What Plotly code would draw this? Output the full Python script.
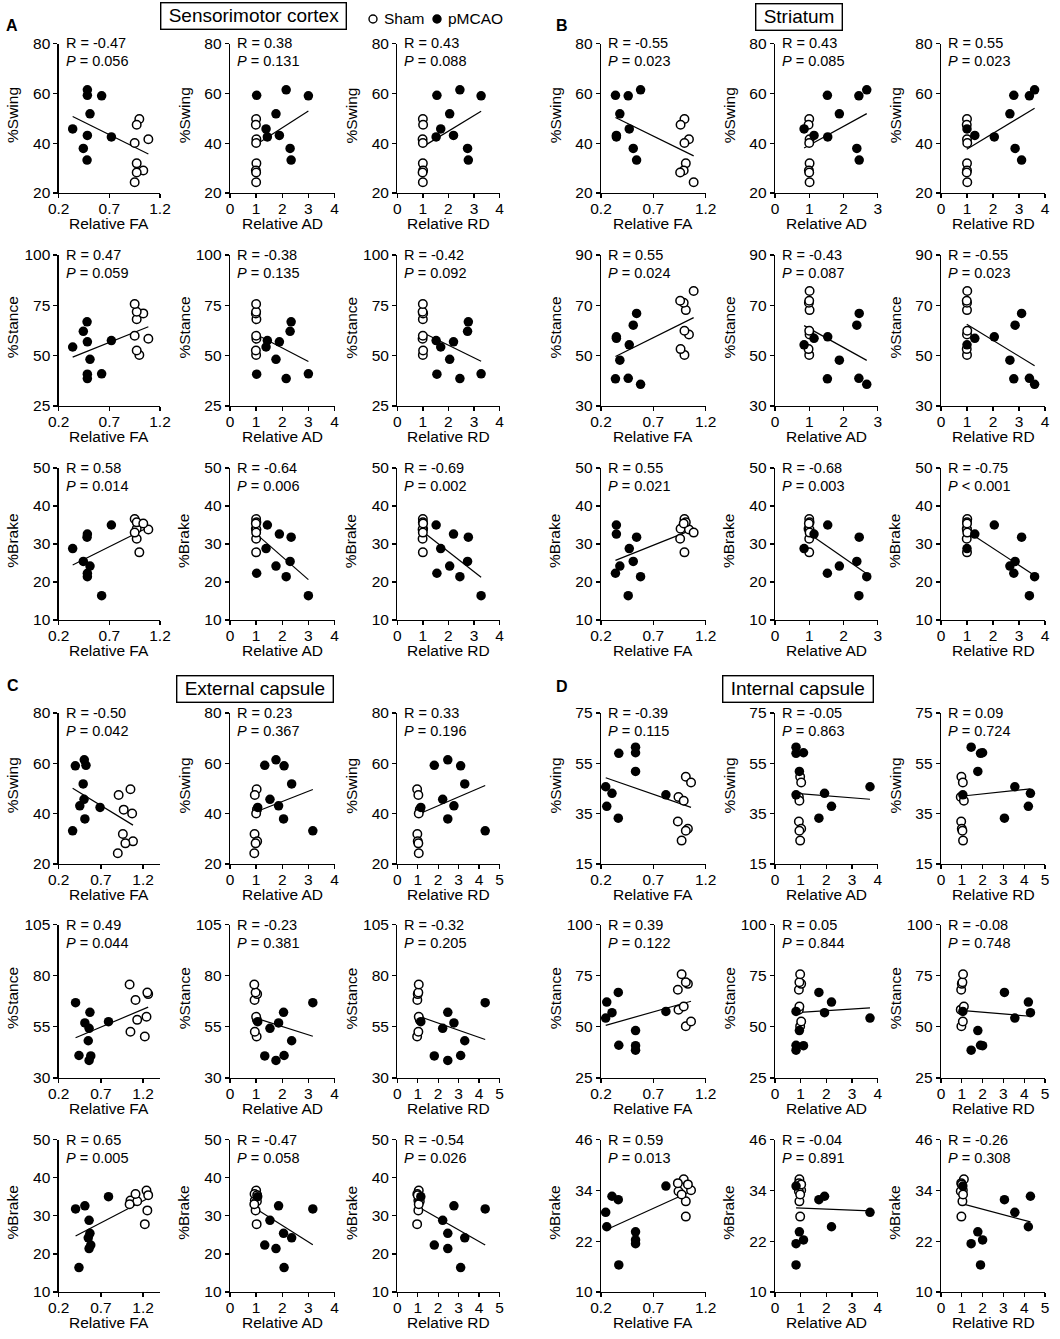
import numpy as np
import plotly.graph_objects as go

W, H = 1060, 1339
OFF = 0  # body margin is removed below, so the figure starts at the window corner
FONT = "Liberation Sans, Arial, sans-serif"

# ---------------- behaviour (%) per animal : Sham n=8, pMCAO n=9 ----------------
swing_sham  = [49.7, 47.4, 41.6, 40.1, 31.9, 29.0, 28.2, 24.3]
swing_mcao  = [61.4, 59.2, 59.0, 51.8, 45.7, 43.1, 42.5, 37.9, 33.2]
stance_sham = [50.3, 52.6, 58.4, 59.9, 68.1, 71.0, 71.8, 75.7]
stance_mcao = [38.6, 40.8, 41.0, 48.2, 54.3, 56.9, 57.5, 62.1, 66.8]
brake_sham  = [27.8, 34.0, 33.8, 36.6, 35.7, 35.4, 31.4, 33.0]
brake_mcao  = [21.4, 22.3, 16.4, 24.2, 28.8, 32.6, 35.0, 25.4, 31.8]

# ---------------- relative DTI values per animal (same animal order) ----------------
# Sensorimotor cortex
smc_fa_sham = [0.996, 0.97, 1.085, 0.95, 0.97, 1.035, 0.97, 0.95]
smc_fa_mcao = [0.483, 0.483, 0.624, 0.509, 0.338, 0.483, 0.72, 0.443, 0.48]
smc_ad_sham = [1.00, 0.99, 1.01, 1.00, 1.01, 0.99, 1.00, 1.00]
smc_ad_mcao = [2.15, 1.02, 3.00, 1.76, 1.38, 1.89, 1.43, 2.30, 2.34]
smc_rd_sham = [1.00, 1.01, 0.99, 1.00, 1.00, 1.01, 0.99, 1.00]
smc_rd_mcao = [2.45, 1.55, 3.28, 2.05, 1.70, 2.20, 1.52, 2.75, 2.78]
# Striatum
str_fa_sham = [0.997, 0.96, 1.04, 0.997, 1.01, 0.99, 0.956, 1.085]
str_fa_mcao = [0.578, 0.338, 0.46, 0.38, 0.47, 0.347, 0.347, 0.508, 0.54]
str_ad_sham = [1.00, 0.98, 1.01, 1.00, 1.01, 0.99, 1.00, 1.01]
str_ad_mcao = [2.68, 1.53, 2.45, 1.88, 0.85, 1.14, 1.54, 2.39, 2.46]
str_rd_sham = [1.00, 0.99, 1.00, 1.01, 1.00, 1.00, 0.99, 1.01]
str_rd_mcao = [3.60, 2.80, 3.40, 2.65, 1.00, 1.30, 2.05, 2.85, 3.10]
# External capsule
ec_fa_sham = [1.22, 1.05, 1.13, 1.24, 1.11, 1.26, 1.25, 1.04]
ec_fa_mcao = [0.56, 0.58, 0.44, 0.55, 0.56, 0.51, 0.79, 0.57, 0.40]
ec_fa_sham_swingplot = [1.05, 0.91, 0.97, 1.07, 0.96, 1.08, 0.99, 0.90]   # as drawn in the %Swing plot
ec_fa_mcao_swingplot = [0.503, 0.523, 0.397, 0.49, 0.50, 0.45, 0.69, 0.51, 0.365]
ec_ad_sham = [1.02, 0.95, 1.03, 1.00, 0.94, 1.04, 0.98, 0.93]
ec_ad_mcao = [1.76, 1.33, 2.07, 2.36, 1.53, 1.86, 1.06, 2.05, 3.17]
ec_rd_sham = [0.97, 1.03, 1.10, 1.05, 0.98, 1.00, 1.03, 1.05]
ec_rd_mcao = [2.47, 1.81, 3.10, 3.30, 2.22, 2.77, 1.15, 2.47, 4.30]
# Internal capsule
ic_fa_sham = [1.01, 1.06, 0.94, 0.99, 0.934, 1.03, 1.01, 0.97]
ic_fa_mcao = [0.53, 0.53, 0.37, 0.53, 0.245, 0.305, 0.82, 0.255, 0.365]
ic_ad_sham = [0.98, 1.02, 0.93, 0.95, 0.93, 1.02, 0.95, 0.98]
ic_ad_mcao = [0.82, 1.11, 0.82, 0.95, 3.70, 1.93, 0.82, 2.20, 1.71]
ic_rd_sham = [0.98, 1.05, 0.95, 1.10, 0.97, 1.00, 1.03, 1.06]
ic_rd_mcao = [1.45, 2.00, 1.90, 1.77, 3.55, 4.30, 1.05, 4.20, 3.05]

regions = ["Sensorimotor cortex", "Striatum", "External capsule", "Internal capsule"]
panel_letters = ["A", "B", "C", "D"]
metrics = ["FA", "AD", "RD"]
behaviours = ["Swing", "Stance", "Brake"]

x_values = [
    [(smc_fa_sham, smc_fa_mcao), (smc_ad_sham, smc_ad_mcao), (smc_rd_sham, smc_rd_mcao)],
    [(str_fa_sham, str_fa_mcao), (str_ad_sham, str_ad_mcao), (str_rd_sham, str_rd_mcao)],
    [(ec_fa_sham, ec_fa_mcao), (ec_ad_sham, ec_ad_mcao), (ec_rd_sham, ec_rd_mcao)],
    [(ic_fa_sham, ic_fa_mcao), (ic_ad_sham, ic_ad_mcao), (ic_rd_sham, ic_rd_mcao)],
]
# (region, behaviour, metric) -> x values used in that particular plot
x_overrides = {(2, 0, 0): (ec_fa_sham_swingplot, ec_fa_mcao_swingplot)}
y_values = [(swing_sham, swing_mcao), (stance_sham, stance_mcao), (brake_sham, brake_mcao)]

# axis ranges and ticks
x_ranges = [
    [(0.2, 1.2), (0, 4), (0, 4)],
    [(0.2, 1.2), (0, 3), (0, 4)],
    [(0.2, 1.4), (0, 4), (0, 5)],
    [(0.2, 1.2), (0, 4), (0, 5)],
]
fa_ticks = [0.2, 0.7, 1.2]
y_ticks = [
    [[20, 40, 60, 80], [25, 50, 75, 100], [10, 20, 30, 40, 50]],
    [[20, 40, 60, 80], [30, 50, 70, 90], [10, 20, 30, 40, 50]],
    [[20, 40, 60, 80], [30, 55, 80, 105], [10, 20, 30, 40, 50]],
    [[15, 35, 55, 75], [25, 50, 75, 100], [10, 22, 34, 46]],
]

# statistics printed in each plot (region -> behaviour -> metric)
r_labels = [
    [["-0.47", "0.38", "0.43"], ["0.47", "-0.38", "-0.42"], ["0.58", "-0.64", "-0.69"]],
    [["-0.55", "0.43", "0.55"], ["0.55", "-0.43", "-0.55"], ["0.55", "-0.68", "-0.75"]],
    [["-0.50", "0.23", "0.33"], ["0.49", "-0.23", "-0.32"], ["0.65", "-0.47", "-0.54"]],
    [["-0.39", "-0.05", "0.09"], ["0.39", "0.05", "-0.08"], ["0.59", "-0.04", "-0.26"]],
]
p_labels = [
    [["= 0.056", "= 0.131", "= 0.088"], ["= 0.059", "= 0.135", "= 0.092"], ["= 0.014", "= 0.006", "= 0.002"]],
    [["= 0.023", "= 0.085", "= 0.023"], ["= 0.024", "= 0.087", "= 0.023"], ["= 0.021", "= 0.003", "&lt; 0.001"]],
    [["= 0.042", "= 0.367", "= 0.196"], ["= 0.044", "= 0.381", "= 0.205"], ["= 0.005", "= 0.058", "= 0.026"]],
    [["= 0.115", "= 0.863", "= 0.724"], ["= 0.122", "= 0.844", "= 0.748"], ["= 0.013", "= 0.891", "= 0.308"]],
]

# ---------------- layout geometry (target pixels in the window) ----------------
left_cols = [(58.7, 160.0), (230.0, 334.5), (397.3, 499.5)]
right_cols = [(601.0, 705.7), (775.0, 877.7), (941.0, 1045.0)]
rows_px = [(43.5, 193.0), (255.0, 406.0), (468.0, 620.0),
           (713.0, 864.0), (924.5, 1078.0), (1139.5, 1292.0)]


def px(xp):
    return (xp - OFF) / W


def py(yp):
    return 1 - (yp - OFF) / H


fig = go.Figure()
layout = dict(width=W, height=H,
              margin=dict(l=0, r=0, t=0, b=0, pad=0, autoexpand=False),
              autosize=False,
              paper_bgcolor="white", plot_bgcolor="white", showlegend=False,
              font=dict(family=FONT, color="black"))
annotations = []
shapes = []

axis_common = dict(showline=True, linecolor="black", linewidth=1.3, ticks="outside",
                   ticklen=4, tickwidth=1.3, tickcolor="black", showgrid=False,
                   zeroline=False, fixedrange=True, automargin=False,
                   tickfont=dict(family=FONT, size=15.5, color="black"))

for p in range(4):
    cols = left_cols if p % 2 == 0 else right_cols
    for r in range(3):
        gr = r + (3 if p >= 2 else 0)
        top, bot = rows_px[gr]
        for c in range(3):
            k = p * 9 + r * 3 + c + 1
            x0, x1 = cols[c]
            xs_sham, xs_mcao = x_overrides.get((p, r, c), x_values[p][c])
            ys_sham, ys_mcao = y_values[r]
            xa = "x" if k == 1 else f"x{k}"
            ya = "y" if k == 1 else f"y{k}"

            # regression line across all animals
            xall = np.array(xs_sham + xs_mcao, dtype=float)
            yall = np.array(ys_sham + ys_mcao, dtype=float)
            slope, icpt = np.polyfit(xall, yall, 1)
            xl = np.array([xall.min(), xall.max()])
            fig.add_trace(go.Scatter(x=xl, y=slope * xl + icpt, mode="lines",
                                     line=dict(color="black", width=1.2),
                                     xaxis=xa, yaxis=ya, hoverinfo="skip"))
            fig.add_trace(go.Scatter(x=xs_sham, y=ys_sham, mode="markers", name="Sham",
                                     marker=dict(symbol="circle", size=8.5, color="white",
                                                 line=dict(color="black", width=1.5)),
                                     xaxis=xa, yaxis=ya))
            fig.add_trace(go.Scatter(x=xs_mcao, y=ys_mcao, mode="markers", name="pMCAO",
                                     marker=dict(symbol="circle", size=9.5, color="black",
                                                 line=dict(color="black", width=0)),
                                     xaxis=xa, yaxis=ya))

            xr = x_ranges[p][c]
            if c == 0:
                xt = dict(tickvals=fa_ticks, ticktext=[f"{v:.1f}" for v in fa_ticks])
            else:
                xt = dict(tickvals=list(range(int(xr[0]), int(xr[1]) + 1)))
            yt = y_ticks[p][r]
            layout["xaxis" if k == 1 else f"xaxis{k}"] = dict(
                axis_common, domain=[px(x0), px(x1)], range=list(xr),
                anchor=ya, ticklabelstandoff=-3, **xt)
            layout["yaxis" if k == 1 else f"yaxis{k}"] = dict(
                axis_common, domain=[py(bot), py(top)], range=[yt[0], yt[-1]],
                tickvals=yt, anchor=xa)

            # R / P text
            annotations.append(dict(xref=f"{xa} domain", yref=f"{ya} domain", x=0, y=1,
                                    xshift=5, xanchor="left", yanchor="middle",
                                    text=f"R = {r_labels[p][r][c]}", showarrow=False,
                                    font=dict(size=14.5, family=FONT)))
            annotations.append(dict(xref=f"{xa} domain", yref=f"{ya} domain", x=0, y=1,
                                    xshift=5, yshift=-18, xanchor="left", yanchor="middle",
                                    text=f"<i>P</i> {p_labels[p][r][c]}", showarrow=False,
                                    font=dict(size=14.5, family=FONT)))
            # axis titles
            annotations.append(dict(xref="paper", yref="paper", x=px(x0 - 46),
                                    y=py((top + bot) / 2 - 3), textangle=-90,
                                    xanchor="center", yanchor="middle",
                                    text=f"%{behaviours[r]}", showarrow=False,
                                    font=dict(size=15.5, family=FONT)))
            annotations.append(dict(xref="paper", yref="paper", x=px((x0 + x1) / 2),
                                    y=py(bot + 30.5), xanchor="center", yanchor="middle",
                                    text=f"Relative {metrics[c]}", showarrow=False,
                                    font=dict(size=15.5, family=FONT)))

# region titles (boxed) and panel letters
title_pos = [(253, 16), (798.5, 16.5), (254.5, 688.5), (798, 688.5)]
letter_pos = [(12, 26), (562, 26), (13, 685), (562, 686)]
for p in range(4):
    tx, ty = title_pos[p]
    annotations.append(dict(xref="paper", yref="paper", x=px(tx), y=py(ty),
                            xanchor="center", yanchor="middle", text=f" {regions[p]} ",
                            showarrow=False, bordercolor="black", borderwidth=1.4,
                            borderpad=2, font=dict(size=19, family=FONT)))
    lx, ly = letter_pos[p]
    annotations.append(dict(xref="paper", yref="paper", x=px(lx), y=py(ly),
                            xanchor="center", yanchor="middle", text=f"<b>{panel_letters[p]}</b>",
                            showarrow=False, font=dict(size=16, family=FONT)))

# group key
key_items = [("Sham", 373, "white"), ("pMCAO", 437, "black")]
for label, cx, fillc in key_items:
    cy = 19
    shapes.append(dict(type="circle", xref="paper", yref="paper",
                       x0=px(cx - 4), x1=px(cx + 4), y0=py(cy + 4), y1=py(cy - 4),
                       fillcolor=fillc, line=dict(color="black", width=1.4)))
    annotations.append(dict(xref="paper", yref="paper", x=px(cx + 9), y=py(cy),
                            xanchor="left", yanchor="middle", text=label, showarrow=False,
                            font=dict(size=15.5, family=FONT)))

layout["annotations"] = annotations
layout["shapes"] = shapes
fig.update_layout(**layout)
fig.write_html("out.html",
               config={"displayModeBar": False, "staticPlot": True},
               post_script="document.body.style.margin='0px';document.body.style.overflow='hidden';")
